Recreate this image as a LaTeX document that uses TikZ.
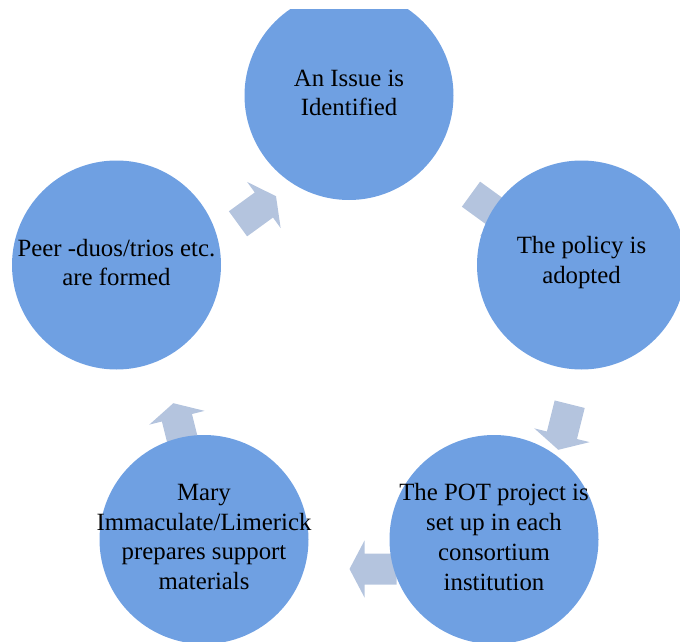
\documentclass[tikz,border=0pt]{standalone}
\usepackage{fontspec}
\setmainfont{Liberation Serif}
\usepackage{tikz}
\definecolor{stepblue}{RGB}{111,160,226}
\definecolor{arrowgrey}{RGB}{180,196,222}
\tikzset {
  % circled stage of the cycle, text is put in as a centred label
  stage/.style = {circle, fill=stepblue, minimum size=209pt, inner sep=0pt},
  stagetext/.style = {align=center, yshift=2.5pt, font=\fontsize{24.8}{29.8}\selectfont},
  % block arrows between the stages
  flow/.style = {fill=arrowgrey},
}

\begin{document}
\begin{tikzpicture}[x=1pt, y=-1pt]
        \useasboundingbox (0,0) rectangle (680,642);
        \clip (0,10) rectangle (680,642);

        % arrows sit behind the circles
        \foreach \x/\y/\a in {257/210/36, 490/208/-36, 564/427/-104, 373/569/180, 179/426/104}
          \fill[flow, shift={(\x,\y)}, rotate=\a]
            (-23.5,-15.5) -- (8.5,-15.5) -- (8.5,-28.5) -- (23.5,0)
            -- (8.5,28.5) -- (8.5,15.5) -- (-23.5,15.5) -- cycle;

        \node[stage] (issue) at (349,95.5) {};
        \node[stage] (policy) at (581.5,265) {};
        \node[stage] (project) at (494,539.5) {};
        \node[stage] (materials) at (204,539.5) {};
        \node[stage] (peers) at (116.5,265) {};

        \node[stagetext] (issuetext) at (issue) {An Issue is\\Identified};
        \node[stagetext] (policytext) at (policy) {The policy is\\adopted};
        \node[stagetext] (projecttext) at (project) {The POT project is\\set up in each\\consortium\\institution};
        \node[stagetext] (materialstext) at (materials) {Mary\\Immaculate/Limerick\\prepares support\\materials};
        \node[stagetext] (peerstext) at (peers) {Peer -duos/trios etc.\\are formed};
      \end{tikzpicture}
\end{document}
